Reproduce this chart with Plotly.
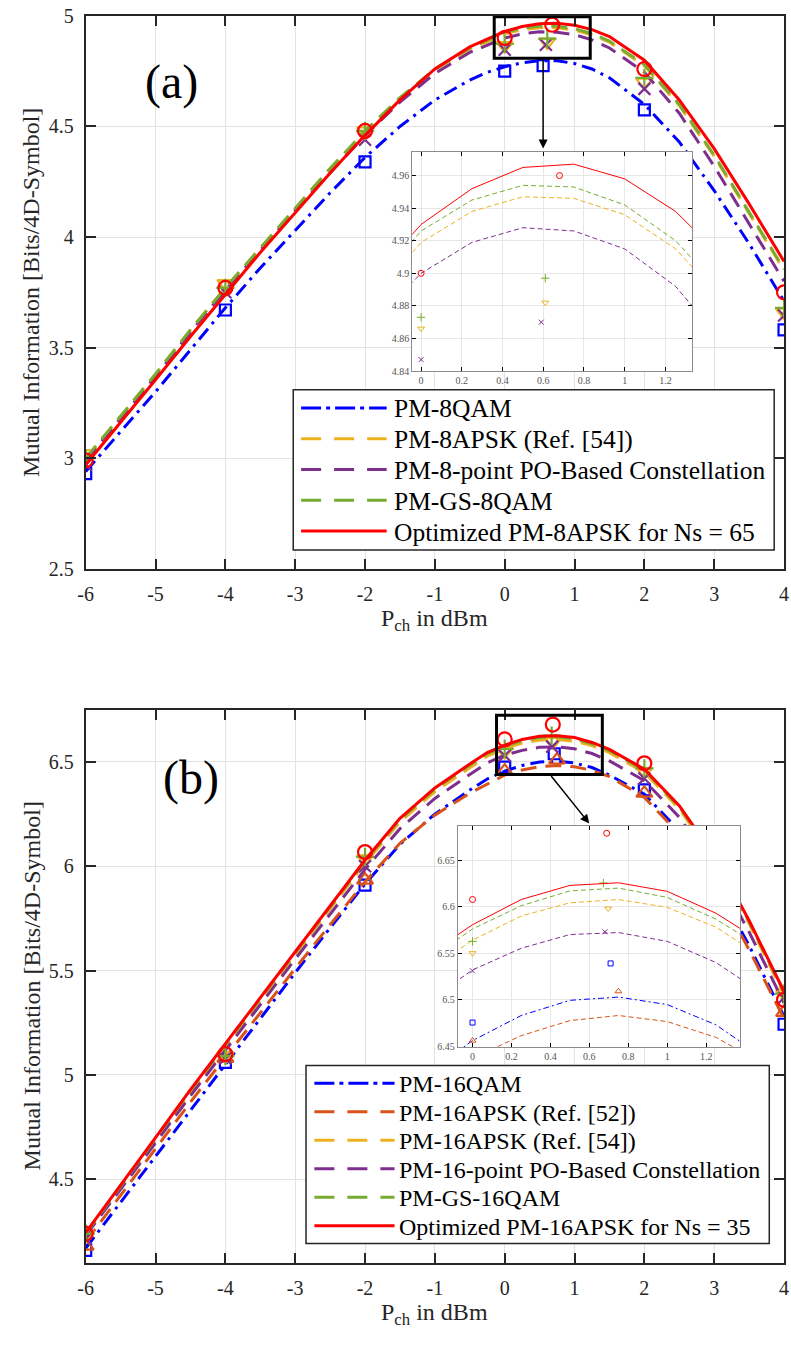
import plotly.graph_objects as go

# ---------------- data ----------------
P_CH = [-6, -5.5, -5, -4.5, -4, -3.5, -3, -2.5, -2, -1.5, -1, -0.5, -0.25,
        0, 0.25, 0.5, 0.75, 1, 1.25, 1.5, 2, 2.5, 3, 3.5, 4]

# panel (a) analytical curves
a_qam8 = [2.94, 3.12, 3.30, 3.49, 3.68, 3.86, 4.03, 4.20, 4.36, 4.50, 4.62, 4.71, 4.745,
          4.77, 4.788, 4.798, 4.797, 4.785, 4.76, 4.72, 4.60, 4.43, 4.21, 3.97, 3.71]
a_apsk8_ref54 = [3.00, 3.19, 3.38, 3.58, 3.77, 3.95, 4.13, 4.31, 4.475, 4.625, 4.755, 4.85, 4.883,
                 4.919, 4.938, 4.947, 4.946, 4.936, 4.915, 4.881, 4.775, 4.595, 4.365, 4.105, 3.85]
a_po8 = [2.99, 3.18, 3.37, 3.57, 3.76, 3.94, 4.12, 4.29, 4.46, 4.61, 4.74, 4.835, 4.868,
         4.900, 4.919, 4.928, 4.926, 4.915, 4.892, 4.855, 4.745, 4.56, 4.32, 4.06, 3.80]
a_gs8qam = [3.00, 3.19, 3.38, 3.58, 3.77, 3.95, 4.13, 4.31, 4.48, 4.63, 4.76, 4.855, 4.890,
            4.926, 4.945, 4.954, 4.953, 4.942, 4.920, 4.886, 4.78, 4.60, 4.37, 4.11, 3.855]
a_opt8apsk = [2.97, 3.16, 3.355, 3.55, 3.74, 3.93, 4.11, 4.29, 4.46, 4.62, 4.76, 4.86, 4.895,
              4.930, 4.952, 4.965, 4.967, 4.958, 4.938, 4.907, 4.80, 4.62, 4.40, 4.15, 3.89]

# panel (a) simulation markers
a_mk_qam8_x = [-6, -4, -2, 0, 0.55, 2, 4]
a_mk_qam8_y = [2.93, 3.67, 4.34, 4.75, 4.775, 4.575, 3.58]
a_mk_apsk8_x = [-6, -4, -2, 0, 0.61, 2, 4]
a_mk_apsk8_y = [3.02, 3.79, 4.48, 4.866, 4.882, 4.70, 3.66]
a_mk_po8_x = [-6, -4, -2, 0, 0.59, 2, 4]
a_mk_po8_y = [2.97, 3.75, 4.44, 4.847, 4.870, 4.67, 3.645]
a_mk_gs8_x = [-6, -4, -2, 0, 0.61, 2, 4]
a_mk_gs8_y = [3.00, 3.77, 4.48, 4.873, 4.897, 4.72, 3.68]
a_mk_opt8_x = [-6, -4, -2, 0, 0.68, 2, 4]
a_mk_opt8_y = [2.99, 3.77, 4.48, 4.900, 4.960, 4.76, 3.75]

# panel (b) analytical curves
b_qam16 = [4.17, 4.39, 4.61, 4.835, 5.055, 5.275, 5.49, 5.705, 5.915, 6.105, 6.25, 6.365, 6.418,
           6.456, 6.483, 6.4993, 6.5028, 6.4947, 6.473, 6.437, 6.345, 6.17, 5.93, 5.62, 5.28]
b_apsk16_ref52 = [4.20, 4.425, 4.65, 4.87, 5.085, 5.30, 5.51, 5.72, 5.925, 6.11, 6.245, 6.35, 6.395,
                  6.437, 6.4613, 6.4775, 6.483, 6.4764, 6.4595, 6.430, 6.33, 6.155, 5.91, 5.60, 5.27]
b_apsk16_ref54 = [4.235, 4.46, 4.69, 4.915, 5.135, 5.355, 5.575, 5.795, 6.015, 6.212, 6.358, 6.472, 6.528,
                  6.564, 6.590, 6.6042, 6.6077, 6.5993, 6.578, 6.544, 6.45, 6.275, 6.035, 5.725, 5.385]
b_po16 = [4.23, 4.45, 4.675, 4.90, 5.12, 5.34, 5.555, 5.77, 5.985, 6.18, 6.325, 6.44, 6.495,
          6.532, 6.5553, 6.570, 6.5722, 6.5627, 6.540, 6.505, 6.41, 6.235, 5.995, 5.685, 5.345]
b_gs16qam = [4.24, 4.465, 4.695, 4.925, 5.145, 5.365, 5.585, 5.805, 6.025, 6.225, 6.37, 6.485, 6.54,
             6.576, 6.601, 6.617, 6.620, 6.610, 6.5866, 6.554, 6.46, 6.285, 6.045, 5.735, 5.395]
b_opt16apsk = [4.245, 4.47, 4.70, 4.93, 5.15, 5.37, 5.59, 5.81, 6.03, 6.23, 6.375, 6.49, 6.545,
               6.5806, 6.6077, 6.6229, 6.6257, 6.6165, 6.593, 6.560, 6.465, 6.29, 6.05, 5.74, 5.40]

# panel (b) simulation markers
b_mk_qam16_x = [-6, -4, -2, 0, 0.709, 2, 4]
b_mk_qam16_y = [4.16, 5.06, 5.91, 6.4754, 6.539, 6.366, 5.243]
b_mk_ref52_x = [-6, -4, -2, 0, 0.749, 2, 4]
b_mk_ref52_y = [4.18, 5.08, 5.934, 6.456, 6.509, 6.35, 5.30]
b_mk_ref54_x = [-6, -4, -2, 0, 0.697, 2, 4]
b_mk_ref54_y = [4.235, 5.09, 6.035, 6.550, 6.598, 6.455, 5.39]
b_mk_po16_x = [-6, -4, -2, 0, 0.68, 2, 4]
b_mk_po16_y = [4.216, 5.08, 6.00, 6.531, 6.573, 6.42, 5.37]
b_mk_gs16_x = [-6, -4, -2, 0, 0.672, 2, 4]
b_mk_gs16_y = [4.24, 5.09, 6.045, 6.5627, 6.6254, 6.469, 5.39]
b_mk_opt16_x = [-6, -4, -2, 0, 0.689, 2, 4]
b_mk_opt16_y = [4.24, 5.10, 6.068, 6.6077, 6.679, 6.493, 5.36]

X_TICKS = [-6, -5, -4, -3, -2, -1, 0, 1, 2, 3, 4]
X_TICK_TEXT = ["-6", "-5", "-4", "-3", "-2", "-1", "0", "1", "2", "3", "4"]
A_Y_TICKS = [2.5, 3, 3.5, 4, 4.5, 5]
A_Y_TEXT = ["2.5", "3", "3.5", "4", "4.5", "5"]
B_Y_TICKS = [4.5, 5, 5.5, 6, 6.5]
B_Y_TEXT = ["4.5", "5", "5.5", "6", "6.5"]
INSET_X_TICKS = [0, 0.2, 0.4, 0.6, 0.8, 1, 1.2]
INSET_X_TEXT = ["0", "0.2", "0.4", "0.6", "0.8", "1", "1.2"]
A_INSET_Y_TICKS = [4.84, 4.86, 4.88, 4.9, 4.92, 4.94, 4.96]
A_INSET_Y_TEXT = ["4.84", "4.86", "4.88", "4.9", "4.92", "4.94", "4.96"]
B_INSET_Y_TICKS = [6.45, 6.5, 6.55, 6.6, 6.65]
B_INSET_Y_TEXT = ["6.45", "6.5", "6.55", "6.6", "6.65"]

# ---------------- style ----------------
W, H = 791, 1348
SERIF = "Liberation Serif"
BLUE = "rgb(0,0,255)"
ORANGE = "rgb(217,83,25)"
YELLOW = "rgb(237,177,32)"
PURPLE = "rgb(126,47,142)"
GREEN = "rgb(119,172,48)"
RED = "rgb(255,0,0)"
AX = "#262626"
GRID = "#e3e3e3"

STYLE = {
    "dashdot": dict(main="14px,6px,3px,6px", inset="6px,3px,2px,3px", legend="20px,5px,4px,5px"),
    "dash": dict(main="16px,9px", inset="5px,3px", legend="20px,13px"),
    "solid": dict(main="solid", inset="solid", legend="solid"),
}

def clamp(v):
    return min(1.0, max(0.0, v))

def px_x(p):
    """page pixel -> paper fraction"""
    return p / W

def px_y(p):
    return 1 - p / H

fig = go.Figure()

def add_series(xa, ya, xi, yi, y, color, style, mkx, mky, symbol, msize, msize_in):
    fig.add_trace(go.Scatter(x=P_CH, y=y, mode="lines", showlegend=False,
                             line=dict(color=color, width=3, dash=STYLE[style]["main"]),
                             xaxis=xa, yaxis=ya))
    fig.add_trace(go.Scatter(x=P_CH, y=y, mode="lines", showlegend=False,
                             line=dict(color=color, width=1, dash=STYLE[style]["inset"]),
                             xaxis=xi, yaxis=yi))
    fig.add_trace(go.Scatter(x=mkx, y=mky, mode="markers", showlegend=False,
                             marker=dict(symbol=symbol, size=msize, color=color,
                                         line=dict(color=color, width=2.2)),
                             xaxis=xa, yaxis=ya))
    fig.add_trace(go.Scatter(x=mkx, y=mky, mode="markers", showlegend=False,
                             marker=dict(symbol=symbol, size=msize_in, color=color,
                                         line=dict(color=color, width=1)),
                             xaxis=xi, yaxis=yi))

SERIES_A = [
    ("PM-8QAM", a_qam8, BLUE, "dashdot", a_mk_qam8_x, a_mk_qam8_y, "square-open", 11, 5),
    ("PM-8APSK (Ref. [54])", a_apsk8_ref54, YELLOW, "dash", a_mk_apsk8_x, a_mk_apsk8_y, "triangle-down-open", 14, 6),
    ("PM-8-point PO-Based Constellation", a_po8, PURPLE, "dash", a_mk_po8_x, a_mk_po8_y, "x-thin-open", 12, 5),
    ("PM-GS-8QAM", a_gs8qam, GREEN, "dash", a_mk_gs8_x, a_mk_gs8_y, "cross-thin-open", 13, 6),
    ("Optimized PM-8APSK for Ns = 65", a_opt8apsk, RED, "solid", a_mk_opt8_x, a_mk_opt8_y, "circle-open", 14, 6),
]
SERIES_B = [
    ("PM-16QAM", b_qam16, BLUE, "dashdot", b_mk_qam16_x, b_mk_qam16_y, "square-open", 11, 5),
    ("PM-16APSK (Ref. [52])", b_apsk16_ref52, ORANGE, "dash", b_mk_ref52_x, b_mk_ref52_y, "triangle-up-open", 14, 6),
    ("PM-16APSK (Ref. [54])", b_apsk16_ref54, YELLOW, "dash", b_mk_ref54_x, b_mk_ref54_y, "triangle-down-open", 14, 6),
    ("PM-16-point PO-Based Constellation", b_po16, PURPLE, "dash", b_mk_po16_x, b_mk_po16_y, "x-thin-open", 12, 5),
    ("PM-GS-16QAM", b_gs16qam, GREEN, "dash", b_mk_gs16_x, b_mk_gs16_y, "cross-thin-open", 13, 6),
    ("Optimized PM-16APSK for Ns = 35", b_opt16apsk, RED, "solid", b_mk_opt16_x, b_mk_opt16_y, "circle-open", 14, 6),
]

for s in SERIES_A:
    add_series("x", "y", "x2", "y2", s[1], s[2], s[3], s[4], s[5], s[6], s[7], s[8])
for s in SERIES_B:
    add_series("x3", "y3", "x4", "y4", s[1], s[2], s[3], s[4], s[5], s[6], s[7], s[8])

def main_axis(domain, rng, ticks, text, anchor):
    return dict(domain=[clamp(domain[0]), clamp(domain[1])], range=rng, tickvals=ticks,
                ticktext=text, anchor=anchor,
                ticks="inside", ticklen=10, tickwidth=1.8, tickcolor=AX,
                showline=True, linewidth=2, linecolor=AX, mirror="ticks",
                showgrid=True, gridcolor=GRID, gridwidth=1.3, zeroline=False,
                ticklabelstandoff=6, ticklabeloverflow="allow",
                tickfont=dict(family=SERIF, size=20, color=AX))

def inset_axis(domain, rng, ticks, text, anchor):
    return dict(domain=domain, range=rng, tickvals=ticks, ticktext=text, anchor=anchor,
                ticks="inside", ticklen=4, tickwidth=1, tickcolor="#000000",
                showline=True, linewidth=1, linecolor="#8c8c8c", mirror="ticks",
                showgrid=True, gridcolor="#e6e6e6", gridwidth=1, zeroline=False,
                ticklabeloverflow="allow",
                tickfont=dict(family=SERIF, size=10, color="#555555"))

fig.update_layout(
    width=W, height=H,
    margin=dict(l=0, r=0, t=0, b=0),
    paper_bgcolor="white", plot_bgcolor="white",
    showlegend=False,
    xaxis=main_axis([px_x(79), px_x(789)], [-6, 4], X_TICKS, X_TICK_TEXT, "y"),
    yaxis=main_axis([px_y(567), px_y(5)], [2.5, 5], A_Y_TICKS, A_Y_TEXT, "x"),
    xaxis2=inset_axis([px_x(411), px_x(695.7)], [-0.0435, 1.332], INSET_X_TICKS, INSET_X_TEXT, "y2"),
    yaxis2=inset_axis([px_y(366), px_y(143.3)], [4.84, 4.9745], A_INSET_Y_TICKS, A_INSET_Y_TEXT, "x2"),
    xaxis3=main_axis([px_x(79), px_x(789)], [-6, 4], X_TICKS, X_TICK_TEXT, "y3"),
    yaxis3=main_axis([px_y(1272.6), px_y(710.3)], [4.1, 6.75], B_Y_TICKS, B_Y_TEXT, "x3"),
    xaxis4=inset_axis([px_x(457.3), px_x(744.3)], [-0.0758, 1.374], INSET_X_TICKS, INSET_X_TEXT, "y4"),
    yaxis4=inset_axis([px_y(1053.3), px_y(828.3)], [6.449, 6.687], B_INSET_Y_TICKS, B_INSET_Y_TEXT, "x4"),
)

shapes = [
    # zoom rectangles
    dict(type="rect", xref="x", yref="y", x0=-0.15, x1=1.225, y0=4.809, y1=4.996,
         line=dict(color="black", width=3), layer="above"),
    dict(type="rect", xref="x3", yref="y3", x0=-0.117, x1=1.398, y0=6.44, y1=6.723,
         line=dict(color="black", width=3), layer="above"),
]
annotations = [
    # arrows
    dict(xref="x", yref="y", axref="x", ayref="y", x=0.55, y=4.40, ax=0.55, ay=4.809,
         showarrow=True, arrowhead=2, arrowsize=1.2, arrowwidth=1.5, arrowcolor="black", text=""),
    dict(xref="x3", yref="y3", axref="x3", ayref="y3", x=1.211, y=6.205, ax=0.648, ay=6.44,
         showarrow=True, arrowhead=2, arrowsize=1.2, arrowwidth=1.5, arrowcolor="black", text=""),
]

def txt(x, y, text, size, angle=0, xanchor="center", color=AX):
    return dict(xref="paper", yref="paper", x=px_x(x), y=px_y(y), text=text, showarrow=False,
                textangle=angle, xanchor=xanchor, yanchor="middle",
                font=dict(family=SERIF, size=size, color=color))

annotations += [
    txt(166, 72, "(a)", 48, color="black"),
    txt(186, 780, "(b)", 48, color="black"),
    txt(24, 286, "Mutual Information [Bits/4D-Symbol]", 24, angle=-90),
    txt(24, 991, "Mutual Information [Bits/4D-Symbol]", 24, angle=-90),
    txt(434, 619, "P<sub>ch</sub> in dBm", 24),
    txt(434, 1325, "P<sub>ch</sub> in dBm", 24),
]

# legends (box, line samples, labels) built from the series list
def add_legend(series, box, row0, dy, sx0, sx1, tx, size):
    shapes.append(dict(type="rect", xref="paper", yref="paper",
                       x0=px_x(box[0]), x1=px_x(box[1]), y0=px_y(box[3]), y1=px_y(box[2]),
                       fillcolor="white", line=dict(color=AX, width=1.5), layer="above"))
    for i, s in enumerate(series):
        yy = row0 + i * dy
        shapes.append(dict(type="line", xref="paper", yref="paper",
                           x0=px_x(sx0), x1=px_x(sx1), y0=px_y(yy), y1=px_y(yy),
                           line=dict(color=s[2], width=3, dash=STYLE[s[3]]["legend"]), layer="above"))
        annotations.append(txt(tx, yy + 1, s[0], size, xanchor="left", color="black"))

add_legend(SERIES_A, (290, 779, 385, 548), 403.5, 31.3, 298, 385, 390, 25.5)
add_legend(SERIES_B, (303, 774, 1072, 1253), 1090, 29, 311.5, 393, 396, 24)

fig.update_layout(shapes=shapes, annotations=annotations)

fig.write_html("out.html")
